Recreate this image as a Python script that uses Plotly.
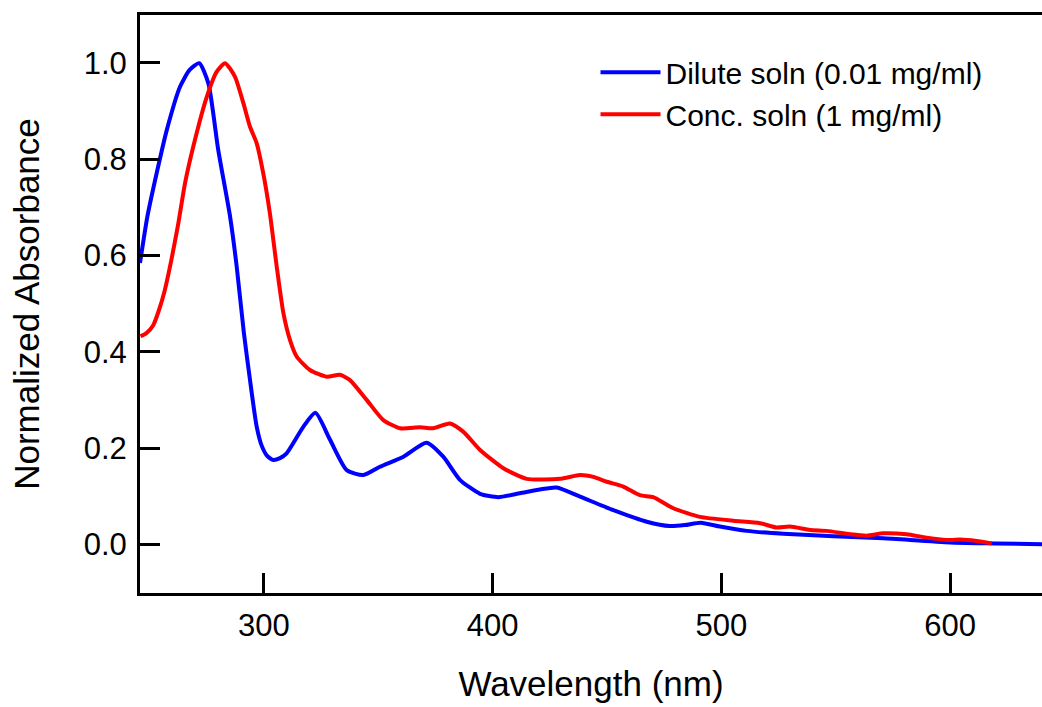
import plotly.graph_objects as go

# Dilute solution (0.01 mg/ml)
dil_wl = [245.8, 249.0, 253.1, 257.5, 263.3, 267.5, 271.7, 275.7, 280.0, 285.2, 288.1, 291.2,
          293.9, 296.8, 299.0, 301.5, 304.1, 307.0, 309.9, 317.2, 322.5, 328.9, 336.2, 343.5,
          350.7, 361.0, 371.1, 378.4, 385.7, 394.5, 402.5, 411.9, 420.7, 428.0, 438.2, 452.8,
          467.4, 477.5, 484.0, 491.0, 499.4, 511.1, 527.1, 549.0, 570.8, 600.0, 620.0, 640.2]
dil_abs = [0.584, 0.680, 0.771, 0.860, 0.950, 0.985, 0.999, 0.957, 0.819, 0.680, 0.576, 0.440,
           0.341, 0.245, 0.205, 0.183, 0.175, 0.179, 0.189, 0.244, 0.273, 0.217, 0.154, 0.144,
           0.161, 0.182, 0.211, 0.182, 0.134, 0.105, 0.098, 0.106, 0.114, 0.118, 0.099, 0.071,
           0.047, 0.038, 0.040, 0.045, 0.037, 0.028, 0.022, 0.017, 0.0125, 0.004, 0.002, 0.0]

# Concentrated solution (1 mg/ml)
con_wl = [246.0, 248.5, 251.6, 254.0, 256.5, 259.5, 262.5, 265.5, 269.1, 275.0, 279.3, 283.0,
          287.3, 291.0, 293.9, 296.8, 299.7, 302.6, 305.6, 308.5, 311.4, 314.3, 320.1, 327.4,
          333.2, 337.6, 344.9, 352.2, 359.5, 368.2, 374.0, 381.3, 387.1, 394.5, 404.7, 414.9,
          429.4, 438.2, 444.0, 449.9, 457.1, 464.4, 470.2, 479.0, 490.7, 505.2, 516.9, 524.2,
          530.0, 538.8, 546.1, 556.3, 563.5, 570.8, 581.0, 589.7, 600.0, 604.4, 611.6, 618.2]
con_abs = [0.432, 0.438, 0.455, 0.485, 0.525, 0.590, 0.665, 0.750, 0.826, 0.929, 0.981, 0.999,
           0.971, 0.916, 0.867, 0.833, 0.770, 0.687, 0.576, 0.480, 0.424, 0.390, 0.362, 0.348,
           0.352, 0.341, 0.300, 0.258, 0.241, 0.243, 0.241, 0.251, 0.234, 0.196, 0.158, 0.136,
           0.136, 0.144, 0.140, 0.130, 0.120, 0.102, 0.098, 0.075, 0.057, 0.049, 0.044, 0.035,
           0.037, 0.030, 0.028, 0.021, 0.018, 0.023, 0.021, 0.014, 0.009, 0.010, 0.007, 0.002]

series_names = ["Dilute soln (0.01 mg/ml)", "Conc. soln (1 mg/ml)"]
x_ticks = [300, 400, 500, 600]
y_ticks = [0.0, 0.2, 0.4, 0.6, 0.8, 1.0]

FONT = "Liberation Sans, Arial, sans-serif"

fig = go.Figure()
fig.add_trace(go.Scatter(x=dil_wl, y=dil_abs, mode="lines", name=series_names[0],
                         line=dict(color="#0000FF", width=4, shape="spline", smoothing=0.6)))
fig.add_trace(go.Scatter(x=con_wl, y=con_abs, mode="lines", name=series_names[1],
                         line=dict(color="#FF0000", width=4, shape="spline", smoothing=0.6)))

fig.update_layout(
    width=1042, height=707,
    margin=dict(l=140, r=0, t=15, b=114),
    paper_bgcolor="white", plot_bgcolor="white",
    font=dict(family=FONT, size=31, color="black"),
    showlegend=True,
    legend=dict(x=0.505, y=0.946, xanchor="left", yanchor="top",
                bgcolor="rgba(0,0,0,0)", font=dict(size=30, family=FONT),
                tracegroupgap=0, itemwidth=60),
)
fig.update_xaxes(
    range=[245.8, 640.2], tickvals=x_ticks, ticktext=[str(v) for v in x_ticks],
    ticks="inside", ticklen=20, tickwidth=3, tickcolor="black",
    showline=True, linewidth=3, linecolor="black", mirror=True,
    showgrid=False, zeroline=False, automargin=False,
    tickfont=dict(size=31, family=FONT), ticklabelstandoff=3,
    title=dict(text="Wavelength (nm)", font=dict(size=35, family=FONT), standoff=30),
)
fig.update_yaxes(
    range=[-0.101, 1.099], tickvals=y_ticks, ticktext=[f"{v:.1f}" for v in y_ticks],
    ticks="inside", ticklen=20, tickwidth=3, tickcolor="black",
    showline=True, linewidth=3, linecolor="black", mirror=False,
    showgrid=False, zeroline=False, automargin=False,
    tickfont=dict(size=31, family=FONT), ticklabelstandoff=4,
    title=dict(text="Normalized Absorbance", font=dict(size=35, family=FONT), standoff=34),
)

fig.write_html(
    "out.html",
    config={"displayModeBar": False},
    post_script="document.body.style.margin='0px';document.body.style.overflow='hidden';",
)
